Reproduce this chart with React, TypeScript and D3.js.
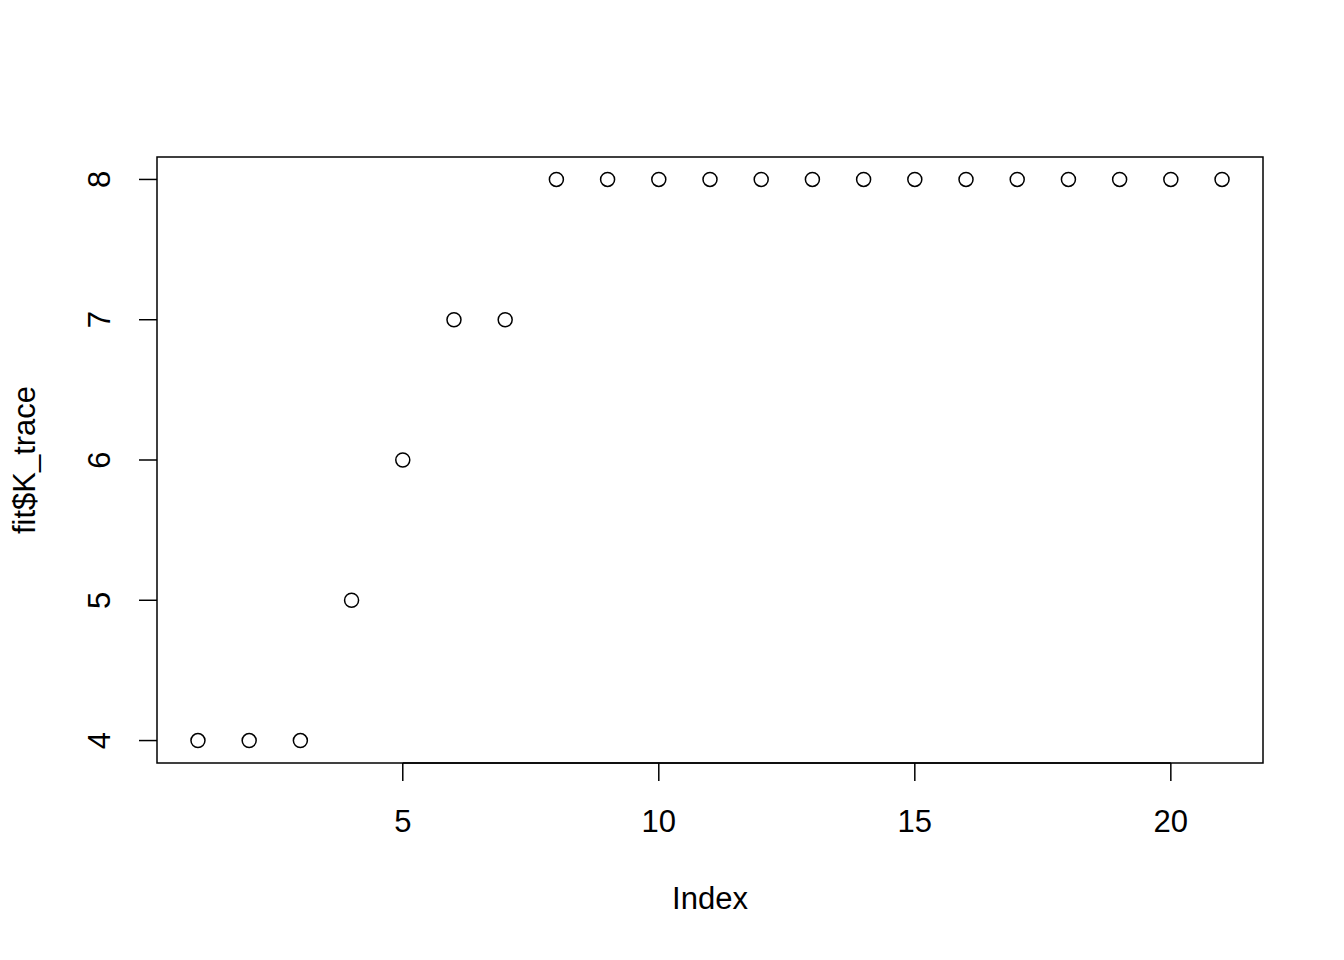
import React from "react";
import * as d3 from "d3";

const indexValues = [1, 2, 3, 4, 5, 6, 7, 8, 9, 10, 11, 12, 13, 14, 15, 16, 17, 18, 19, 20, 21];
const kTrace = [4, 4, 4, 5, 6, 7, 7, 8, 8, 8, 8, 8, 8, 8, 8, 8, 8, 8, 8, 8, 8];
const xTicks = [5, 10, 15, 20];
const yTicks = [4, 5, 6, 7, 8];
const xLabel = "Index";
const yLabel = "fit$K_trace";

export default function App() {
  const W = 1344, H = 960;
  const left = 157, right = 1263, top = 157, bottom = 763;
  const x = d3.scaleLinear().domain([0.2, 21.8]).range([left, right]);
  const y = d3.scaleLinear().domain([3.84, 8.16]).range([bottom, top]);
  const font = "'Liberation Sans', Arial, Helvetica, sans-serif";
  const fs = 31;
  const data = indexValues.map((v, i) => ({ i: v, k: kTrace[i] }));
  return (
    <svg width={W} height={H} style={{ position: "absolute", left: 0, top: 0, background: "#fff" }} fontFamily={font}>
      <rect x={0} y={0} width={W} height={H} fill="#fff" />
      <rect x={left} y={top} width={right - left} height={bottom - top} fill="none" stroke="#000" strokeWidth={1.5} />
      {xTicks.map((t) => (
        <g key={"x" + t}>
          <line x1={x(t)} x2={x(t)} y1={bottom} y2={bottom + 18} stroke="#000" strokeWidth={1.5} />
          <text x={x(t)} y={832} textAnchor="middle" fontSize={fs}>{t}</text>
        </g>
      ))}
      <line x1={x(5)} x2={x(20)} y1={bottom} y2={bottom} stroke="#000" strokeWidth={1.5} />
      {yTicks.map((t) => (
        <g key={"y" + t}>
          <line x1={left - 18} x2={left} y1={y(t)} y2={y(t)} stroke="#000" strokeWidth={1.5} />
          <text transform={`translate(110,${y(t)}) rotate(-90)`} textAnchor="middle" fontSize={fs}>{t}</text>
        </g>
      ))}
      <text x={(left + right) / 2} y={909} textAnchor="middle" fontSize={fs}>{xLabel}</text>
      <text transform={`translate(35,${(top + bottom) / 2}) rotate(-90)`} textAnchor="middle" fontSize={fs}>{yLabel}</text>
      {data.map((d) => (
        <circle key={d.i} cx={x(d.i)} cy={y(d.k)} r={7} fill="none" stroke="#000" strokeWidth={1.5} />
      ))}
    </svg>
  );
}
